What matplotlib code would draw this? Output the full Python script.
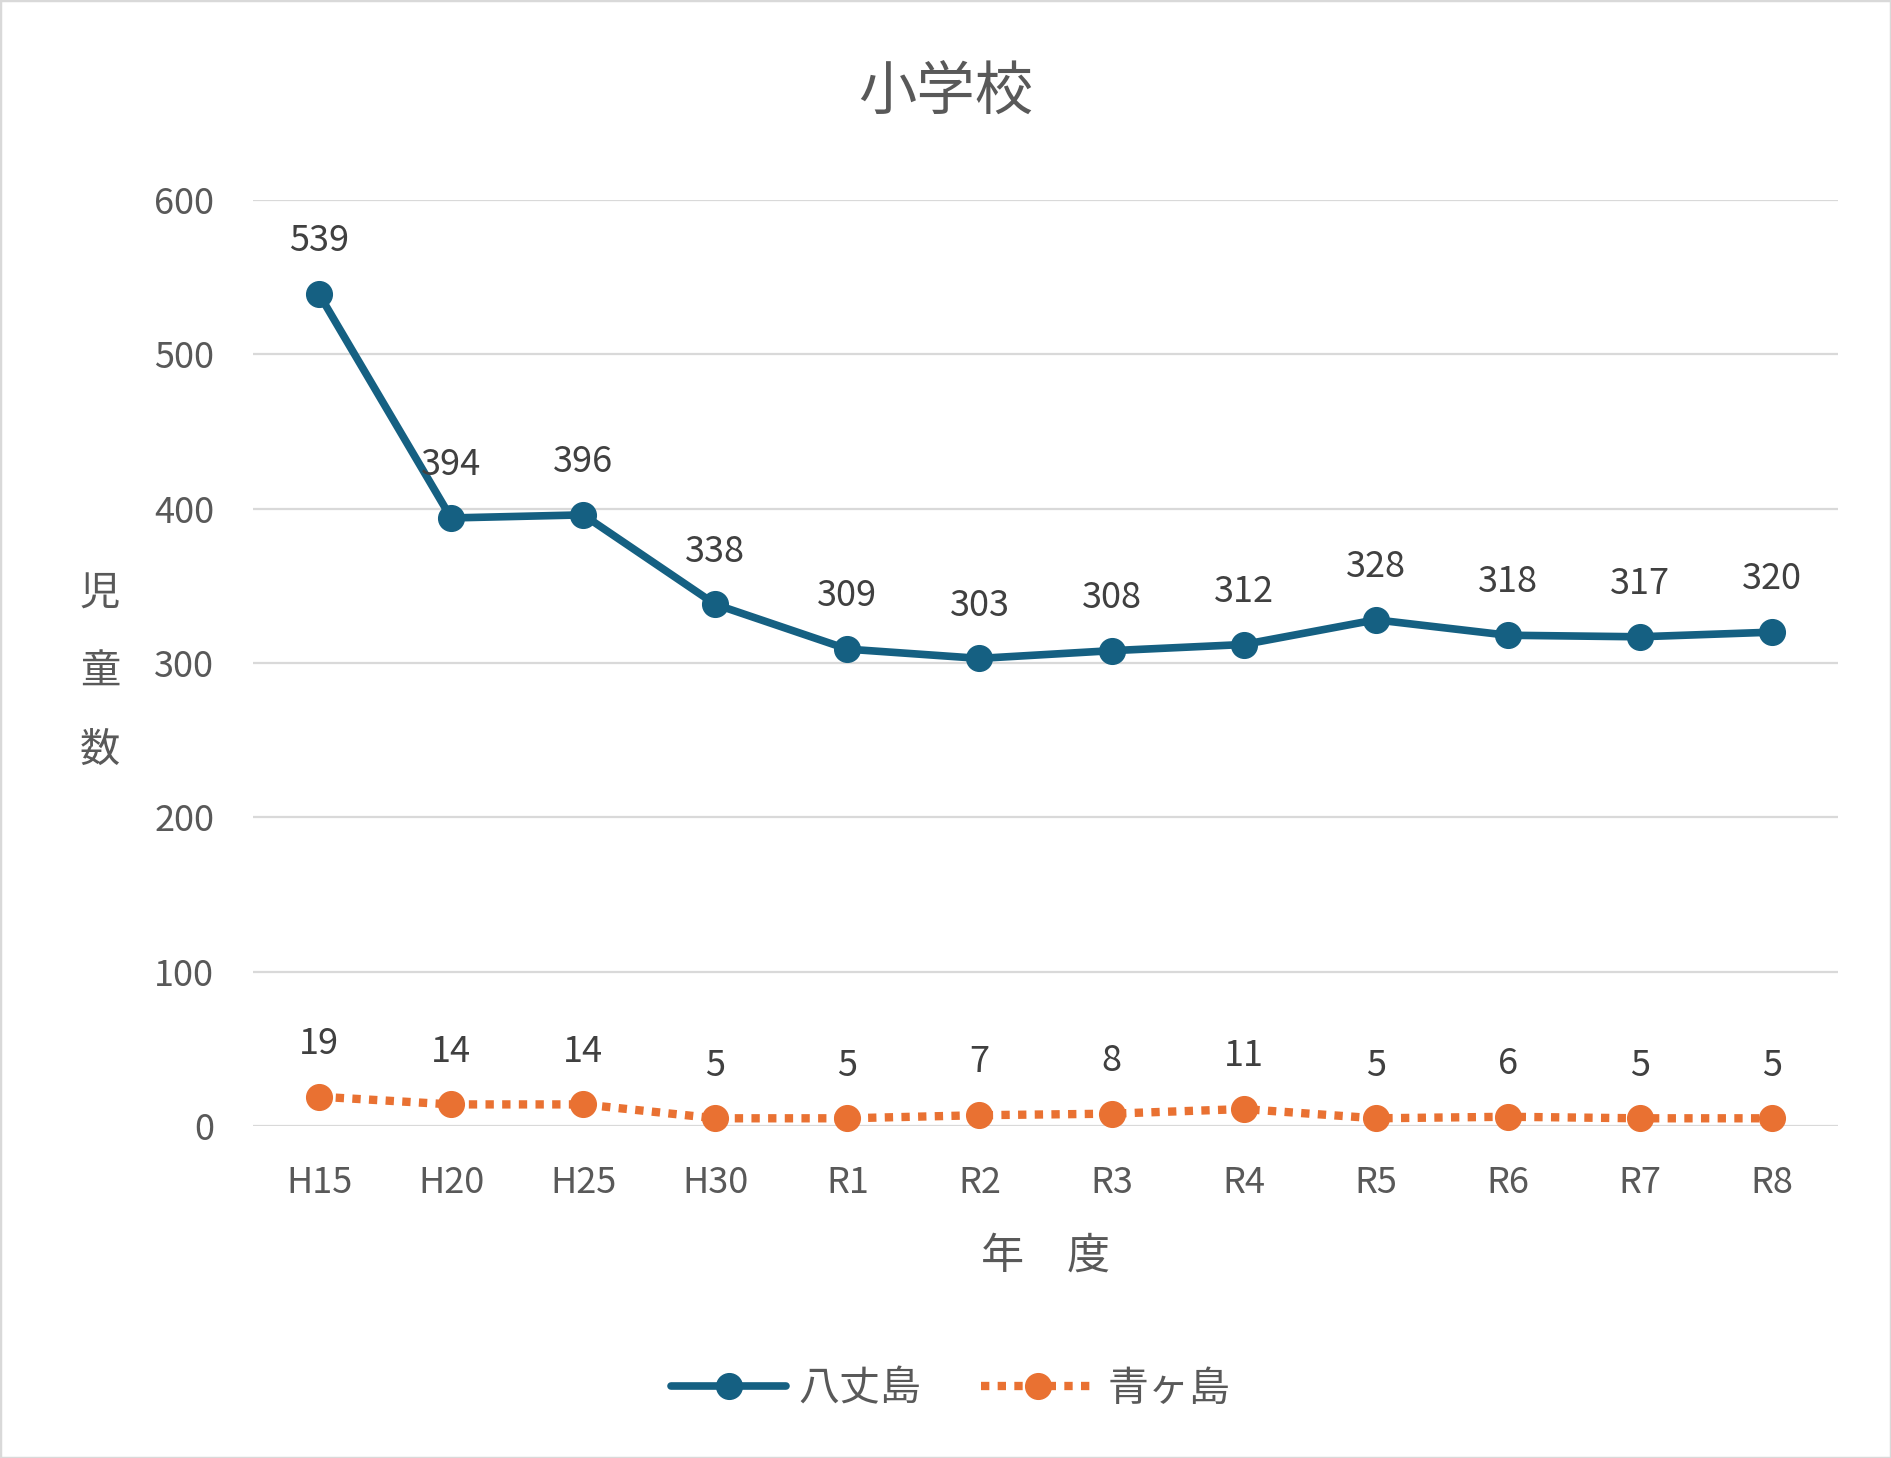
import matplotlib
matplotlib.use('Agg')
import matplotlib.pyplot as plt
from matplotlib.patches import Rectangle

plt.rcParams['font.family'] = ['Noto Sans CJK JP', 'DejaVu Sans']

years = ['H15', 'H20', 'H25', 'H30', 'R1', 'R2', 'R3', 'R4', 'R5', 'R6', 'R7', 'R8']
hachijo = [539, 394, 396, 338, 309, 303, 308, 312, 328, 318, 317, 320]
aogashima = [19, 14, 14, 5, 5, 7, 8, 11, 5, 6, 5, 5]

BLUE = '#156082'
ORANGE = '#E97132'
GRID = '#D9D9D9'
TICK = '#595959'
LABEL = '#404040'

fig = plt.figure(figsize=(18.91, 14.58), dpi=100)
ax = fig.add_axes([0.1338, 0.2277, 0.8382, 0.6351])

x = list(range(len(years)))
ax.plot(x, hachijo, '-o', color=BLUE, lw=5.5, ms=18.5, clip_on=False,
        solid_capstyle='round', label='八丈島', zorder=3)
ax.plot(x, aogashima, 'o', ls=(0, (1, 1)), color=ORANGE, lw=6, ms=18.5,
        clip_on=False, label='青ヶ島', zorder=3)

# data labels above each point
for xi, v in zip(x, hachijo):
    ax.annotate(str(v), (xi, v), xytext=(0, 38), textcoords='offset points',
                ha='center', va='center', fontsize=26, color=LABEL)
for xi, v in zip(x, aogashima):
    ax.annotate(str(v), (xi, v), xytext=(0, 38), textcoords='offset points',
                ha='center', va='center', fontsize=26, color=LABEL)

ax.set_xlim(-0.5, len(years) - 0.5)
ax.set_ylim(0, 600)
ax.set_yticks(range(0, 601, 100))
ax.set_xticks(x)
ax.set_xticklabels(years)
ax.tick_params(axis='both', length=0, labelsize=26, labelcolor=TICK)
ax.tick_params(axis='y', pad=28)
ax.tick_params(axis='x', pad=28)
ax.grid(axis='y', color=GRID, lw=1.6)
ax.set_axisbelow(True)
for s in ax.spines.values():
    s.set_visible(False)

fig.text(0.5, 0.936, '小学校', ha='center', va='center', fontsize=42, color=TICK)
fig.text(0.0529, 0.539, '児\n童\n数', ha='center', va='center', fontsize=29,
         color=TICK, linespacing=2.15)
fig.text(0.553, 0.138, '年　度', ha='center', va='center', fontsize=31, color=TICK)

fig.legend(loc='center', bbox_to_anchor=(0.503, 0.0473), ncol=2, frameon=False,
           fontsize=29.5, handlelength=2.8, columnspacing=1.45, handletextpad=0.3,
           labelcolor=TICK)

fig.patches.append(Rectangle((0, 0), 1, 1, transform=fig.transFigure, fill=False,
                             edgecolor=GRID, lw=2.5))

fig.savefig('out.png', dpi=100, facecolor='white')
